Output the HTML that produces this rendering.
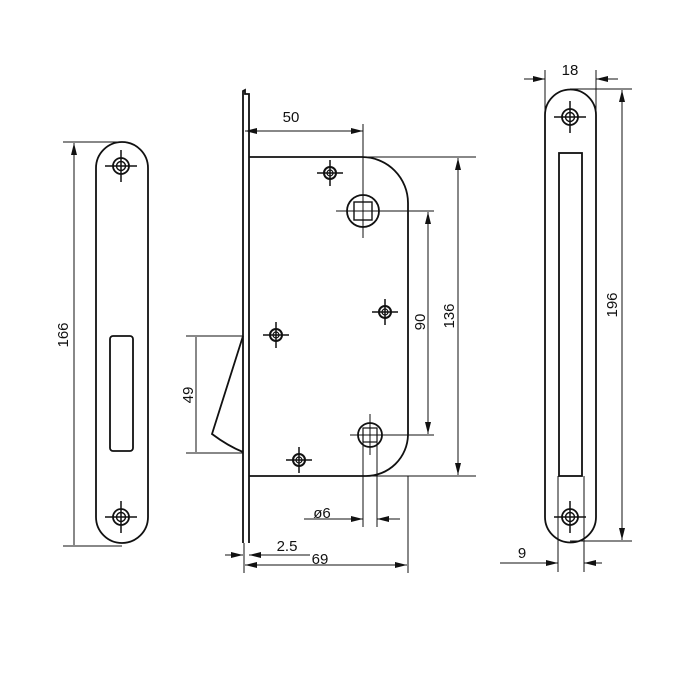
<!DOCTYPE html>
<html><head><meta charset="utf-8"><style>html,body{margin:0;padding:0;background:#fff}svg{display:block}</style></head>
<body>
<svg width="700" height="700" viewBox="0 0 700 700" xmlns="http://www.w3.org/2000/svg" font-family="Liberation Sans, sans-serif">
<defs>
<g id="s" stroke="#111" fill="none">
<circle r="6" stroke-width="2"/><circle r="3" stroke-width="1.2"/>
<line x1="-13" y1="0" x2="13" y2="0" stroke-width="1.5"/><line x1="0" y1="-13" x2="0" y2="13" stroke-width="1.5"/>
</g>
<g id="S" stroke="#111" fill="none">
<circle r="8" stroke-width="1.8"/><circle r="4.5" stroke-width="1.4"/>
<line x1="-16" y1="0" x2="16" y2="0" stroke-width="1.5"/><line x1="0" y1="-16" x2="0" y2="16" stroke-width="1.5"/>
</g>
<marker id="a" viewBox="0 0 12 6" refX="12" refY="3" markerWidth="12" markerHeight="6" orient="auto-start-reverse" markerUnits="userSpaceOnUse"><path d="M0,0 L12,3 L0,6 Z" fill="#111"/></marker>
</defs>
<g stroke="#111" fill="none" stroke-width="1.8">
<path d="M96,517 V168 A26,26 0 0 1 148,168 V517 A26,26 0 0 1 96,517 Z"/>
<rect x="110" y="336" width="23" height="115" rx="3"/>
<path d="M545,517 V115 A25.5,25.5 0 0 1 596,115 V517 A25.5,25.5 0 0 1 545,517 Z"/>
<rect x="559" y="153" width="23" height="323"/>
<path d="M243,543 V91 L245,90 V94 H249 V543"/>
<path d="M249,157 H362 A46,46 0 0 1 408,203 V435 A42,42 0 0 1 366,476 H249"/>
<path d="M243,336 L212,434 Q228,446 243,452"/>
<circle cx="363" cy="211" r="16"/>
<rect x="354" y="202" width="18" height="18" stroke-width="1.4"/>
<circle cx="370" cy="435" r="12"/>
<rect x="363" y="428" width="14" height="14" stroke-width="1.2"/>
</g>
<g stroke="#111" fill="none" stroke-width="1">
<line x1="336" y1="211" x2="434" y2="211"/><line x1="363" y1="124" x2="363" y2="238"/>
<line x1="350" y1="435" x2="434" y2="435"/><line x1="370" y1="414" x2="370" y2="455"/>
<line x1="363" y1="442" x2="363" y2="527"/><line x1="377" y1="442" x2="377" y2="527"/>
<line x1="245" y1="131" x2="363" y2="131" marker-start="url(#a)" marker-end="url(#a)"/>
<line x1="362" y1="157" x2="476" y2="157"/><line x1="366" y1="476" x2="476" y2="476"/>
<line x1="458" y1="158" x2="458" y2="475" marker-start="url(#a)" marker-end="url(#a)"/>
<line x1="428" y1="212" x2="428" y2="434" marker-start="url(#a)" marker-end="url(#a)"/>
<line x1="304" y1="519" x2="363" y2="519" marker-end="url(#a)"/>
<line x1="400" y1="519" x2="377" y2="519" marker-end="url(#a)"/>
<line x1="186" y1="336" x2="243" y2="336"/><line x1="186" y1="453" x2="243" y2="453"/>
<line x1="196" y1="337" x2="196" y2="452"/>
<line x1="225" y1="555" x2="243" y2="555" marker-end="url(#a)"/>
<line x1="310" y1="555" x2="249" y2="555" marker-end="url(#a)"/>
<line x1="244" y1="543" x2="244" y2="573"/><line x1="408" y1="476" x2="408" y2="573"/>
<line x1="245" y1="565" x2="407" y2="565" marker-start="url(#a)" marker-end="url(#a)"/>
<line x1="63" y1="142" x2="122" y2="142"/><line x1="63" y1="546" x2="122" y2="546"/>
<line x1="74" y1="143" x2="74" y2="545" marker-start="url(#a)"/>
<line x1="545" y1="70" x2="545" y2="115"/><line x1="596" y1="70" x2="596" y2="115"/>
<line x1="524" y1="79" x2="545" y2="79" marker-end="url(#a)"/>
<line x1="618" y1="79" x2="596" y2="79" marker-end="url(#a)"/>
<line x1="570" y1="89" x2="632" y2="89"/><line x1="570" y1="541" x2="632" y2="541"/>
<line x1="622" y1="90" x2="622" y2="540" marker-start="url(#a)" marker-end="url(#a)"/>
<line x1="558" y1="476" x2="558" y2="572"/><line x1="584" y1="476" x2="584" y2="572"/>
<line x1="500" y1="563" x2="558" y2="563" marker-end="url(#a)"/>
<line x1="602" y1="563" x2="584" y2="563" marker-end="url(#a)"/>
</g>
<use href="#S" x="121" y="166"/><use href="#S" x="121" y="517"/>
<use href="#S" x="570" y="117"/><use href="#S" x="570" y="517"/>
<use href="#s" x="330" y="173"/><use href="#s" x="385" y="312"/>
<use href="#s" x="276" y="335"/><use href="#s" x="299" y="460"/>
<g font-size="15" fill="#111">
<text x="291" y="122" text-anchor="middle">50</text>
<text x="322" y="518" text-anchor="middle">ø6</text>
<text x="287" y="551" text-anchor="middle">2.5</text>
<text x="320" y="564" text-anchor="middle">69</text>
<text x="570" y="75" text-anchor="middle">18</text>
<text x="522" y="558" text-anchor="middle">9</text>
<text transform="translate(68,335) rotate(-90)" text-anchor="middle">166</text>
<text transform="translate(193,395) rotate(-90)" text-anchor="middle">49</text>
<text transform="translate(425,322) rotate(-90)" text-anchor="middle">90</text>
<text transform="translate(454,316) rotate(-90)" text-anchor="middle">136</text>
<text transform="translate(617,305) rotate(-90)" text-anchor="middle">196</text>
</g>
</svg>
</body></html>
